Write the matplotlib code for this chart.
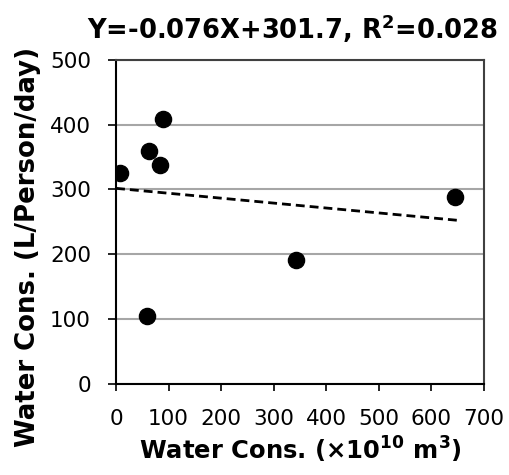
import numpy as np
import matplotlib
matplotlib.use("Agg")
import matplotlib.pyplot as plt

# water consumption data
cons_total = [8, 63, 84, 90, 58, 342, 645]          # x10^10 m3
cons_person = [325, 359, 338, 408, 104, 191, 289]   # L/Person/day

slope = -0.076
intercept = 301.7
r2 = 0.028
trend_x = [0, 650]

plt.rcParams['font.family'] = ['DejaVu Sans']
plt.rcParams['mathtext.default'] = 'bf'

fig = plt.figure(figsize=(5.09, 4.75), dpi=100)
ax = fig.add_axes([0.228, 0.192, 0.723, 0.682])

ax.yaxis.grid(True, color='#a6a6a6', linewidth=1.5, zorder=0)
ax.set_axisbelow(True)

tx = np.array(trend_x, dtype=float)
ax.plot(tx, slope * tx + intercept, color='black', linewidth=2.0,
        linestyle=(0, (3.2, 1.8)), zorder=2)
ax.scatter(cons_total, cons_person, s=135, color='black', zorder=3)

ax.set_xlim(0, 700)
ax.set_ylim(0, 500)
ax.set_xticks(np.arange(0, 701, 100))
ax.set_yticks(np.arange(0, 501, 100))

for side in ['left', 'bottom']:
    ax.spines[side].set_color('black')
    ax.spines[side].set_linewidth(1.5)
for side in ['top', 'right']:
    ax.spines[side].set_color('#404040')
    ax.spines[side].set_linewidth(1.5)

ax.tick_params(axis='y', direction='out', length=6, width=1.2, pad=12, labelsize=15.5)
ax.tick_params(axis='x', direction='out', length=5, width=1.2, pad=13, labelsize=15.5)

ax.set_xlabel(r"Water Cons. (×10$^{10}$ m$^{3}$)", fontsize=17.5, fontweight='bold', labelpad=4)
ax.set_ylabel("Water Cons. (L/Person/day)", fontsize=18.7, fontweight='bold')
ax.yaxis.set_label_coords(-0.205, 0.423)
ax.set_title("Y=%.3fX+%.1f, R$^{2}$=%.3f" % (slope, intercept, r2),
             fontsize=18.5, fontweight='bold', pad=15, x=0.48)

fig.savefig("out.png", dpi=100)
